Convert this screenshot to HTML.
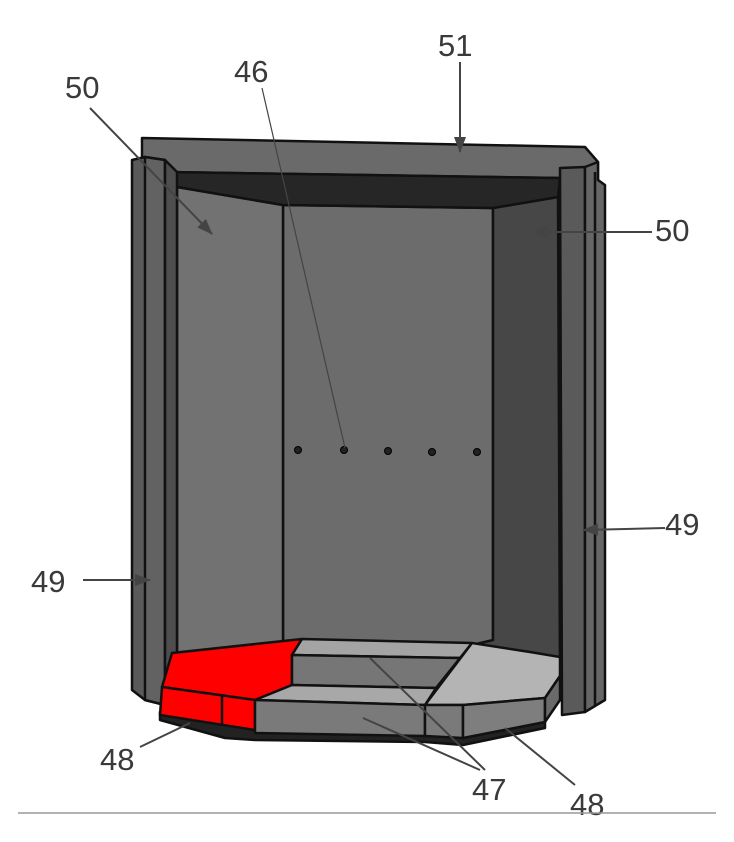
<!DOCTYPE html>
<html><head><meta charset="utf-8"><style>
html,body{margin:0;padding:0;background:#fff;}
svg{display:block;}
text{font-family:"Liberation Sans",sans-serif;font-size:31px;fill:#3a3a3a;}
</style></head><body>
<svg width="734" height="842" viewBox="0 0 734 842" xmlns="http://www.w3.org/2000/svg">
<defs>
<marker id="ah" markerWidth="16" markerHeight="14" refX="15" refY="7" orient="auto" markerUnits="userSpaceOnUse">
<path d="M0,1 L16,7 L0,13 z" fill="#444"/></marker>
</defs>
<g stroke="#111" stroke-width="2.5" stroke-linejoin="round">
<polygon points="142,138 585,147 598,162 598,180 560,178 167,172 142,160" fill="#6a6a6a"/>
<polygon points="283,205 493,208 493,645 283,645" fill="#6c6c6c"/>
<polygon points="177,187 283,205 283,645 177,655" fill="#727272"/>
<polygon points="493,208 558,197 560,680 472,645 493,640" fill="#474747"/>
<polygon points="167,172 560,178 558,197 493,208 283,205 177,187" fill="#262626"/>
<polygon points="132,160 145,157 165,160 165,705 145,700 132,690" fill="#5a5a5a"/>
<polygon points="145,157 165,160 165,705 145,700" fill="#626262"/>
<polygon points="165,160 177,172 177,705 165,705" fill="#4e4e4e"/>
<polygon points="560,168 585,167 585,712 562,715" fill="#5a5a5a"/>
<polygon points="585,167 598,162 598,180 605,185 605,700 585,712" fill="#666"/>
<line x1="595" y1="172" x2="595" y2="705"/>
<polygon points="160,712 255,730 425,735 463,738 545,722 545,728 463,745 425,742 255,740 225,738 160,720" fill="#222"/>
<polygon points="172,653 302,639 292,655 292,685 255,700 162,687" fill="#ff0000"/>
<polygon points="162,687 255,700 255,730 160,715" fill="#ff0000"/>
<line x1="222" y1="695" x2="222" y2="726"/>
<polygon points="302,639 472,643 460,658 292,655" fill="#a4a4a4"/>
<polygon points="292,655 460,658 436,688 292,685" fill="#767676"/>
<polygon points="292,685 436,688 425,705 255,700" fill="#a8a8a8"/>
<polygon points="255,700 425,705 425,736 255,733" fill="#7a7a7a"/>
<polygon points="472,643 530,652 560,657 560,676 545,698 463,705 425,705" fill="#b4b4b4"/>
<polygon points="425,705 463,705 463,738 425,736" fill="#7a7a7a"/>
<polygon points="463,705 545,698 545,722 463,738" fill="#7e7e7e"/>
<polygon points="545,698 560,676 560,700 545,722" fill="#6a6a6a"/>
</g>
<g fill="#222" stroke="#000" stroke-width="1">
<circle cx="298" cy="450" r="3.5"/><circle cx="344" cy="450" r="3.5"/><circle cx="388" cy="451" r="3.5"/><circle cx="432" cy="452" r="3.5"/><circle cx="477" cy="452" r="3.5"/>
</g>
<g stroke="#444" stroke-width="2" fill="none">
<line x1="460" y1="62" x2="460" y2="152" marker-end="url(#ah)"/>
<line x1="262" y1="88" x2="345" y2="448" stroke-width="1.2"/>
<line x1="90" y1="108" x2="212" y2="234" marker-end="url(#ah)"/>
<line x1="652" y1="232" x2="533" y2="232" marker-end="url(#ah)"/>
<line x1="665" y1="528" x2="583" y2="530" marker-end="url(#ah)"/>
<line x1="83" y1="580" x2="150" y2="580" marker-end="url(#ah)"/>
<line x1="140" y1="747" x2="190" y2="723"/>
<line x1="485" y1="770" x2="370" y2="658"/>
<line x1="480" y1="770" x2="363" y2="718"/>
<line x1="575" y1="785" x2="505" y2="728"/>
</g>
<text x="438" y="56">51</text>
<text x="234" y="82">46</text>
<text x="65" y="98">50</text>
<text x="655" y="241">50</text>
<text x="665" y="535">49</text>
<text x="31" y="592">49</text>
<text x="100" y="770">48</text>
<text x="472" y="800">47</text>
<text x="570" y="815">48</text>
<line x1="18" y1="813" x2="716" y2="813" stroke="#999" stroke-width="1.5"/>
</svg>
</body></html>
